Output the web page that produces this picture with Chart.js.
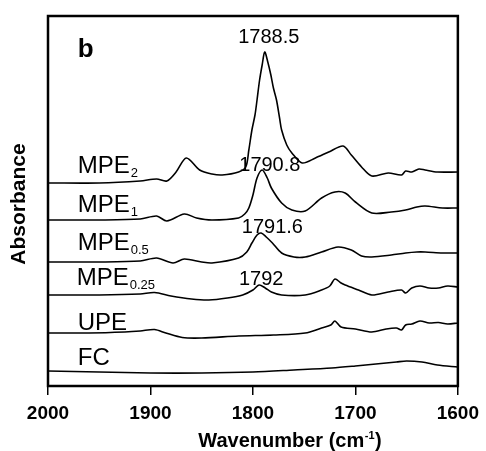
<!DOCTYPE html>
<html>
<head>
<meta charset="utf-8">
<title>FTIR spectra b</title>
<script src="https://cdn.jsdelivr.net/npm/chart.js@4.4.1/dist/chart.umd.min.js"></script>
<style>
  html, body { margin: 0; padding: 0; background: #fff; }
  #wrap { width: 486px; height: 451px; }
</style>
</head>
<body>
<div id="wrap"><canvas id="irChart"></canvas></div>
<script>
// x ticks (wavenumber, cm-1)
const xTicks = [2000, 1900, 1800, 1700, 1600];

// spectra, stacked as in the figure (wavenumber, absorbance a.u.)
const fcWn  = [2000, 1950, 1900, 1850, 1800, 1760, 1723, 1700, 1680, 1660, 1650, 1635, 1620, 1600];
const fcAbs = [0.16, 0.15, 0.14, 0.14, 0.15, 0.17, 0.19, 0.21, 0.23, 0.25, 0.26, 0.25, 0.22, 0.20];

const upeWn  = [2000, 1960, 1925, 1910, 1896, 1885, 1869, 1850, 1814, 1780, 1749, 1733, 1724, 1720, 1714, 1700, 1684, 1670, 1660, 1655, 1651, 1645, 1637, 1628, 1619, 1610, 1600];
const upeAbs = [0.54, 0.54, 0.55, 0.56, 0.575, 0.54, 0.495, 0.49, 0.51, 0.52, 0.54, 0.59, 0.62, 0.66, 0.60, 0.58, 0.55, 0.58, 0.59, 0.57, 0.62, 0.63, 0.66, 0.64, 0.645, 0.63, 0.64];

const mpe025Wn  = [2000, 1950, 1910, 1896, 1880, 1860, 1843, 1825, 1810, 1800, 1794, 1788, 1782, 1772, 1749, 1733, 1725, 1720, 1714, 1710, 1697, 1684, 1668, 1655, 1651, 1645, 1637, 1628, 1619, 1610, 1600];
const mpe025Abs = [0.92, 0.92, 0.93, 0.945, 0.91, 0.88, 0.87, 0.89, 0.92, 0.97, 1.02, 0.99, 0.95, 0.92, 0.92, 0.97, 1.01, 1.08, 1.04, 1.02, 0.97, 0.92, 0.95, 0.97, 0.94, 0.99, 1.01, 0.99, 0.99, 1.01, 1.00];

const mpe05Wn  = [2000, 1950, 1910, 1894, 1878, 1867, 1850, 1840, 1814, 1806, 1801, 1796, 1792, 1787, 1781, 1772, 1760, 1749, 1733, 1717, 1704, 1694, 1684, 1665, 1651, 1640, 1632, 1615, 1600];
const mpe05Abs = [1.25, 1.25, 1.26, 1.29, 1.24, 1.28, 1.25, 1.24, 1.29, 1.35, 1.44, 1.52, 1.54, 1.50, 1.44, 1.34, 1.30, 1.30, 1.35, 1.40, 1.37, 1.31, 1.30, 1.32, 1.34, 1.35, 1.35, 1.34, 1.34];

const mpe1Wn  = [2000, 1950, 1910, 1894, 1884, 1867, 1855, 1840, 1814, 1808, 1804, 1800, 1796, 1791, 1786, 1782, 1772, 1762, 1749, 1733, 1720, 1710, 1700, 1684, 1665, 1651, 1640, 1632, 1615, 1600];
const mpe1Abs = [1.67, 1.67, 1.68, 1.71, 1.66, 1.73, 1.69, 1.67, 1.69, 1.73, 1.79, 1.92, 2.09, 2.17, 2.09, 1.99, 1.84, 1.77, 1.76, 1.89, 1.95, 1.94, 1.85, 1.74, 1.75, 1.77, 1.80, 1.81, 1.79, 1.79];

const mpe2Wn  = [2000, 1950, 1910, 1894, 1884, 1875, 1865, 1852, 1840, 1830, 1814, 1807, 1804, 1801, 1798, 1796, 1793.5, 1791, 1788.5, 1785.5, 1782.5, 1780, 1777, 1774, 1772, 1767, 1762, 1752, 1739, 1726, 1712, 1704, 1694, 1684, 1668, 1655, 1651, 1645, 1638, 1632, 1620, 1600];
const mpe2Abs = [2.04, 2.04, 2.06, 2.08, 2.06, 2.15, 2.29, 2.17, 2.13, 2.12, 2.15, 2.20, 2.37, 2.57, 2.72, 2.87, 3.07, 3.22, 3.35, 3.25, 3.12, 2.99, 2.87, 2.69, 2.57, 2.42, 2.34, 2.24, 2.29, 2.35, 2.41, 2.32, 2.20, 2.11, 2.14, 2.12, 2.16, 2.15, 2.18, 2.17, 2.15, 2.15];

// curve names (main text + subscript) and peak labels
const curveNames = [
  { main: 'MPE', sub: '2',    wn: 1971, abs: 2.14 },
  { main: 'MPE', sub: '1',    wn: 1971, abs: 1.75 },
  { main: 'MPE', sub: '0.5',  wn: 1971, abs: 1.37 },
  { main: 'MPE', sub: '0.25', wn: 1972, abs: 1.02 },
  { main: 'UPE', sub: '',     wn: 1971, abs: 0.57 },
  { main: 'FC',  sub: '',     wn: 1971, abs: 0.22 }
];
const peakLabels = [
  { text: '1788.5', wn: 1784.5, abs: 3.44 },
  { text: '1790.8', wn: 1783.5, abs: 2.16 },
  { text: '1791.6', wn: 1781,   abs: 1.54 },
  { text: '1792',   wn: 1792,   abs: 1.02 }
];

function toPoints(xs, ys) {
  return xs.map(function(x, i) { return { x: x, y: ys[i] }; });
}

const spectra = [
  { label: 'FC',      data: toPoints(fcWn, fcAbs) },
  { label: 'UPE',     data: toPoints(upeWn, upeAbs) },
  { label: 'MPE0.25', data: toPoints(mpe025Wn, mpe025Abs) },
  { label: 'MPE0.5',  data: toPoints(mpe05Wn, mpe05Abs) },
  { label: 'MPE1',    data: toPoints(mpe1Wn, mpe1Abs) },
  { label: 'MPE2',    data: toPoints(mpe2Wn, mpe2Abs) }
];

const FONT = '"Liberation Sans", Arial, Helvetica, sans-serif';

// frame, annotations and axis titles
const decorPlugin = {
  id: 'decor',
  afterDraw(chart) {
    const ctx = chart.ctx;
    const area = chart.chartArea;
    const xs = chart.scales.x, ys = chart.scales.y;
    ctx.save();

    // frame
    ctx.strokeStyle = '#000';
    ctx.lineWidth = 2.5;
    ctx.strokeRect(area.left, area.top, area.right - area.left, area.bottom - area.top);

    ctx.fillStyle = '#000';
    ctx.textBaseline = 'alphabetic';

    // curve names with subscripts
    curveNames.forEach(function(n) {
      const px = xs.getPixelForValue(n.wn);
      const py = ys.getPixelForValue(n.abs);
      ctx.font = '24px ' + FONT;
      ctx.textAlign = 'left';
      ctx.fillText(n.main, px, py);
      if (n.sub) {
        const w = ctx.measureText(n.main).width;
        ctx.font = '13px ' + FONT;
        ctx.fillText(n.sub, px + w + 1, py + 4);
      }
    });

    // peak positions
    ctx.font = '20px ' + FONT;
    ctx.textAlign = 'center';
    peakLabels.forEach(function(p) {
      ctx.fillText(p.text, xs.getPixelForValue(p.wn), ys.getPixelForValue(p.abs));
    });

    // panel letter
    ctx.font = 'bold 26px ' + FONT;
    ctx.textAlign = 'left';
    ctx.fillText('b', xs.getPixelForValue(1971), ys.getPixelForValue(3.30));

    // y title
    ctx.save();
    ctx.translate(19, 204);
    ctx.rotate(-Math.PI / 2);
    ctx.font = 'bold 21px ' + FONT;
    ctx.textAlign = 'center';
    ctx.textBaseline = 'middle';
    ctx.fillText('Absorbance', 0, 0);
    ctx.restore();

    // x title with superscript
    const mainA = 'Wavenumber (cm';
    const sup = '-1';
    const mainB = ')';
    ctx.font = 'bold 20px ' + FONT;
    const wA = ctx.measureText(mainA).width;
    const wB = ctx.measureText(mainB).width;
    ctx.font = 'bold 11px ' + FONT;
    const wS = ctx.measureText(sup).width;
    const total = wA + wS + wB + 1;
    let tx = 290 - total / 2;
    const ty = 447;
    ctx.textAlign = 'left';
    ctx.font = 'bold 20px ' + FONT;
    ctx.fillText(mainA, tx, ty);
    ctx.font = 'bold 11px ' + FONT;
    ctx.fillText(sup, tx + wA + 0.5, ty - 8);
    ctx.font = 'bold 20px ' + FONT;
    ctx.fillText(mainB, tx + wA + wS + 1, ty);

    ctx.restore();
  }
};

document.addEventListener('DOMContentLoaded', function() {
  const ctx = document.getElementById('irChart').getContext('2d');
  new Chart(ctx, {
    type: 'line',
    data: {
      datasets: spectra.map(function(s) {
        return {
          label: s.label,
          data: s.data,
          borderColor: '#000',
          borderWidth: 1.6,
          pointRadius: 0,
          fill: false,
          tension: 0.3
        };
      })
    },
    options: {
      responsive: true,
      maintainAspectRatio: false,
      animation: false,
      layout: { padding: { left: 48, right: 26, top: 16, bottom: 0 } },
      plugins: {
        legend: { display: false },
        tooltip: { enabled: false }
      },
      scales: {
        x: {
          type: 'linear',
          reverse: true,
          min: 1600,
          max: 2000,
          afterBuildTicks: function(scale) {
            scale.ticks = xTicks.map(function(v) { return { value: v }; });
          },
          afterFit: function(scale) { scale.height = 65; },
          ticks: {
            color: '#000',
            font: { family: FONT, size: 19, weight: 'bold' },
            padding: 7,
            maxRotation: 0,
            callback: function(v) { return String(v); }
          },
          grid: {
            drawOnChartArea: false,
            drawTicks: true,
            tickLength: 9,
            color: '#000',
            lineWidth: 1.5
          },
          border: { display: false }
        },
        y: {
          display: false,
          min: 0.01,
          max: 3.71
        }
      }
    },
    plugins: [decorPlugin]
  });
});
</script>
</body>
</html>
